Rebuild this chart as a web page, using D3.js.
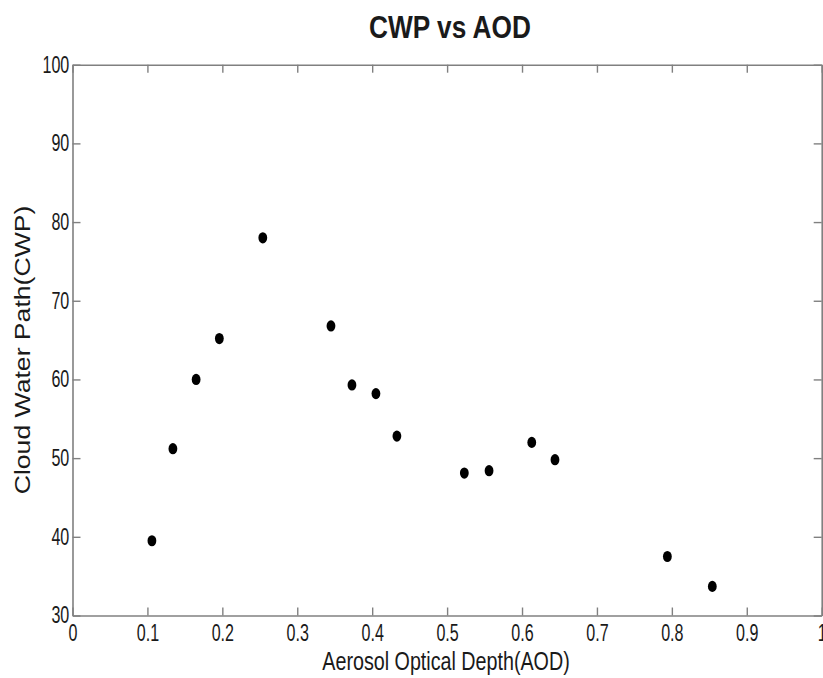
<!DOCTYPE html>
<html>
<head>
<meta charset="utf-8">
<script src="https://cdn.jsdelivr.net/npm/d3@7"></script>
<style>
  html, body { margin: 0; padding: 0; background: #fff; }
  svg { display: block; }
  text { font-family: "Liberation Sans", Arial, Helvetica, sans-serif; fill: #1a1a1a; }
</style>
</head>
<body>
<svg id="chart" width="823" height="678"></svg>
<script>
// ---- data ----
const aod = [0.106, 0.134, 0.165, 0.196, 0.254, 0.345, 0.373, 0.405, 0.433, 0.523, 0.556, 0.613, 0.644, 0.794, 0.854];
const cwp = [39.5, 51.2, 60.0, 65.2, 78.0, 66.8, 59.3, 58.2, 52.8, 48.1, 48.4, 52.0, 49.8, 37.5, 33.7];
const xTicks = [0, 0.1, 0.2, 0.3, 0.4, 0.5, 0.6, 0.7, 0.8, 0.9, 1];
const xTickLabels = ["0", "0.1", "0.2", "0.3", "0.4", "0.5", "0.6", "0.7", "0.8", "0.9", "1"];
const yTicks = [30, 40, 50, 60, 70, 80, 90, 100];
const yTickLabels = ["30", "40", "50", "60", "70", "80", "90", "100"];
const titleText = "CWP vs AOD";
const xLabelText = "Aerosol Optical Depth(AOD)";
const yLabelText = "Cloud Water Path(CWP)";

// ---- layout ----
const plotLeft = 72.5, plotRight = 821.7, plotTop = 64.7, plotBottom = 615.5;
const svg = d3.select("#chart");

const x = d3.scaleLinear().domain([0, 1]).range([plotLeft, plotRight]);
const y = d3.scaleLinear().domain([30, 100]).range([plotBottom, plotTop]);

const axisColor = "#808080";
function styleAxis(g) {
  g.select(".domain").attr("stroke", axisColor).attr("stroke-width", 1.6);
  g.selectAll(".tick line").attr("stroke", axisColor).attr("stroke-width", 1.4);
}

// bottom axis
const gx = svg.append("g").attr("transform", `translate(0,${plotBottom})`)
  .call(d3.axisBottom(x).tickValues(xTicks).tickFormat((d, i) => xTickLabels[i])
    .tickSizeInner(-8).tickSizeOuter(0).tickPadding(9.5));
styleAxis(gx);
gx.selectAll(".tick text")
  .attr("font-size", 23).attr("fill", "#1a1a1a")
  .attr("font-family", "Liberation Sans, Arial, sans-serif")
  .attr("transform", "scale(0.7,1)");

// top axis (ticks only)
const gt = svg.append("g").attr("transform", `translate(0,${plotTop})`)
  .call(d3.axisTop(x).tickValues(xTicks).tickFormat("")
    .tickSizeInner(-8).tickSizeOuter(0));
styleAxis(gt);

// left axis
const gy = svg.append("g").attr("transform", `translate(${plotLeft},0)`)
  .call(d3.axisLeft(y).tickValues(yTicks).tickFormat((d, i) => yTickLabels[i])
    .tickSizeInner(-8).tickSizeOuter(0).tickPadding(3.2));
styleAxis(gy);
gy.selectAll(".tick text")
  .attr("font-size", 23).attr("fill", "#1a1a1a")
  .attr("font-family", "Liberation Sans, Arial, sans-serif")
  .attr("x", -3.2 / 0.7)
  .attr("transform", "scale(0.7,1)");

// right axis (ticks only)
const gr = svg.append("g").attr("transform", `translate(${plotRight},0)`)
  .call(d3.axisRight(y).tickValues(yTicks).tickFormat("")
    .tickSizeInner(-8).tickSizeOuter(0));
styleAxis(gr);

// points
svg.append("g").selectAll("ellipse")
  .data(aod.map((a, i) => [a, cwp[i]]))
  .join("ellipse")
  .attr("cx", d => x(d[0]))
  .attr("cy", d => y(d[1]))
  .attr("rx", 4.4)
  .attr("ry", 5.6)
  .attr("fill", "#000");

// title
svg.append("g").attr("transform", "translate(450,38) scale(0.82,1)")
  .append("text")
  .attr("text-anchor", "middle")
  .attr("font-size", 32)
  .attr("font-weight", "bold")
  .attr("fill", "#000")
  .text(titleText);

// x label
svg.append("g").attr("transform", "translate(446,670) scale(0.77,1)")
  .append("text")
  .attr("text-anchor", "middle")
  .attr("font-size", 25.6)
  .text(xLabelText);

// y label
svg.append("g").attr("transform", "translate(30,350) scale(0.8,1) rotate(-90)")
  .append("text")
  .attr("text-anchor", "middle")
  .attr("font-size", 26.6)
  .text(yLabelText);
</script>
</body>
</html>
